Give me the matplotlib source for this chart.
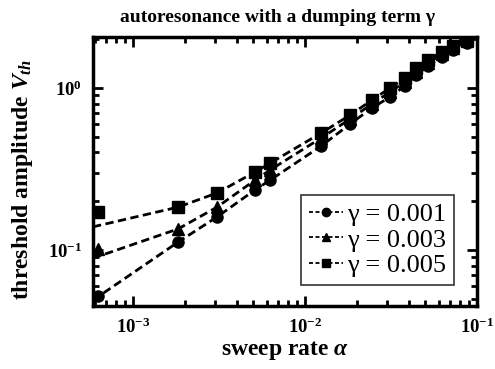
import matplotlib
matplotlib.use("Agg")
import math
import matplotlib.pyplot as plt
from matplotlib.ticker import LogLocator, NullFormatter, FuncFormatter

plt.rcParams['font.family'] = ['Liberation Serif', 'DejaVu Serif']
plt.rcParams['mathtext.fontset'] = 'custom'
plt.rcParams['mathtext.rm'] = 'Liberation Serif:bold'
plt.rcParams['mathtext.it'] = 'Liberation Serif:italic:bold'
plt.rcParams['mathtext.bf'] = 'Liberation Serif:bold'

# sweep rate alpha
alpha = [6.27e-4, 1.83e-3, 3.08e-3, 5.12e-3, 6.27e-3, 1.24e-2, 1.83e-2, 2.45e-2,
         3.12e-2, 3.81e-2, 4.42e-2, 5.19e-2, 6.26e-2, 7.25e-2, 8.75e-2]
# threshold amplitudes (markers)
v_g001 = [0.052, 0.112, 0.160, 0.235, 0.270, 0.438, 0.600, 0.753, 0.880, 1.03,
          1.20, 1.37, 1.55, 1.72, 1.90]
v_g003 = [0.101, 0.135, 0.184, 0.270, 0.312, 0.491, 0.644, 0.797, 0.945, 1.09,
          1.25, 1.43, 1.62, 1.77, 1.95]
v_g005 = [0.172, 0.184, 0.225, 0.303, 0.344, 0.527, 0.681, 0.843, 1.00, 1.153,
          1.33, 1.49, 1.67, 1.82, 1.98]
# dashed fit curves: values at the left and right edges
fit_alpha0 = 5.85e-4
fit_start = {'0.001': 0.049, '0.003': 0.089, '0.005': 0.139}
fit_end_alpha = 0.1
fit_end = {'0.001': 2.05, '0.003': 2.08, '0.005': 2.10}

labels = ['0.001', '0.003', '0.005']
series = [v_g001, v_g003, v_g005]
markers = ['o', '^', 's']

fig = plt.figure(figsize=(4.95, 3.69), dpi=100)
ax = fig.add_axes([0.1879, 0.1707, 0.9636 - 0.1879, 0.8997 - 0.1707])

for lab, vals, m in zip(labels, series, markers):
    xs = [fit_alpha0] + alpha[1:] + [fit_end_alpha]
    ys = [fit_start[lab]] + vals[1:] + [fit_end[lab]]
    ax.plot(xs, ys, color='black', lw=2.0, ls=(0, (3, 1.6)), zorder=2)
    ax.plot(alpha, vals, ls='none', marker=m, ms=8, color='black', zorder=3)
    # legend proxy
    ax.plot([], [], color='black', lw=1.3, ls=(0, (2.2, 1.4)), marker=m, ms=6,
            label='\u03b3 = ' + lab)

ax.set_xscale('log')
ax.set_yscale('log')
ax.set_xlim(5.85e-4, 0.1)
ax.set_ylim(0.0451, 2.065)

def fmt(v, pos):
    e = int(round(math.log10(v)))
    return r'$\mathbf{10^{%d}}$' % e

ax.xaxis.set_major_locator(LogLocator(base=10))
ax.yaxis.set_major_locator(LogLocator(base=10))
ax.xaxis.set_major_formatter(FuncFormatter(fmt))
ax.yaxis.set_major_formatter(FuncFormatter(fmt))
ax.xaxis.set_minor_locator(LogLocator(base=10, subs=range(2, 10)))
ax.yaxis.set_minor_locator(LogLocator(base=10, subs=range(2, 10)))
ax.xaxis.set_minor_formatter(NullFormatter())
ax.yaxis.set_minor_formatter(NullFormatter())

ax.tick_params(which='both', direction='in', top=True, right=True, width=2)
ax.tick_params(which='major', length=7, labelsize=13.5, pad=8)
ax.tick_params(which='minor', length=4)
for s in ax.spines.values():
    s.set_linewidth(2.5)

ax.set_xlabel(r'sweep rate $\alpha$', fontsize=17, fontweight='bold', labelpad=2)
ax.set_ylabel(r'threshold amplitude $V_{th}$', fontsize=17, fontweight='bold')
ax.yaxis.set_label_coords(-0.15, 0.47)
fig.text(0.56, 0.952, 'autoresonance with a dumping term \u03b3', ha='center', va='center',
         fontsize=14, fontweight='bold')

leg = ax.legend(loc='lower right', bbox_to_anchor=(0.940, 0.078), fontsize=19,
                frameon=True, fancybox=False, edgecolor='black', handlelength=1.3,
                handletextpad=0.15, labelspacing=0.08, borderpad=0.3, borderaxespad=0)
leg.get_frame().set_linewidth(1.2)

fig.savefig('out.png', dpi=100)
